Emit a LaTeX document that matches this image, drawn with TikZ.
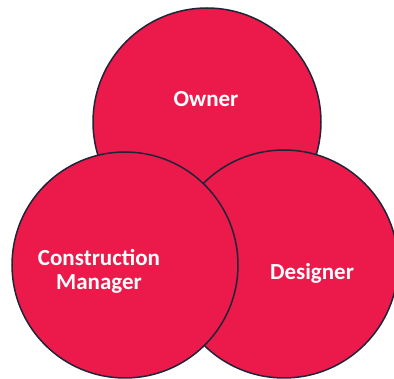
\documentclass[tikz,border=0pt]{standalone}
\usepackage{fontspec}
\setmainfont{Carlito}
\definecolor{venn}{HTML}{EC194B}
\definecolor{rim}{HTML}{1F2438}
\tikzset{
  vcircle/.style={circle, draw=rim, fill=venn, line width=1.5pt, inner sep=0pt, minimum size=228pt},
  vlabel/.style={text=white, font=\fontsize{23}{24}\selectfont\bfseries, align=center, inner sep=0pt}
}
\begin{document}
\begin{tikzpicture}[x=1pt,y=-1pt]
\useasboundingbox (0,0) rectangle (394,379);
\node[vcircle] (owner) at (207,122) {};
\node[vcircle] (designer) at (284,264) {};
\node[vcircle, minimum size=226pt] (cm) at (125,265) {};
\node[vlabel] (ownert) at (206,99) {Owner};
\node[vlabel] (cmt) at (99,271) {Construction\\Manager};
\node[vlabel] (dest) at (312,273) {Designer};
\end{tikzpicture}
\end{document}
